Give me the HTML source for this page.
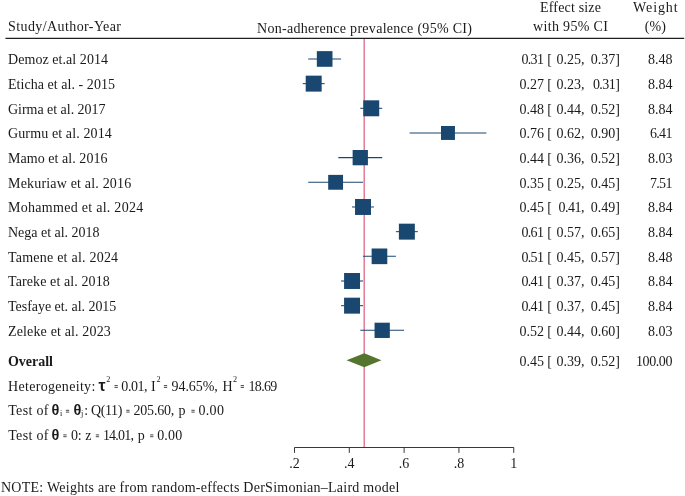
<!DOCTYPE html>
<html><head><meta charset="utf-8"><title>Forest plot</title>
<style>html,body{margin:0;padding:0;background:#fff}body{width:685px;height:496px;overflow:hidden}svg{display:block;will-change:transform}text{filter:grayscale(1);font-family:"Liberation Serif",serif;fill:#1a1a1a;white-space:pre}.g{font-family:"Liberation Sans",sans-serif;font-weight:bold}</style>
</head><body>
<svg width="685" height="496" viewBox="0 0 685 496">
<rect width="685" height="496" fill="#ffffff"/>
<text x="8.00" y="31.30" font-size="14" textLength="113.00" lengthAdjust="spacing">Study/Author-Year</text>
<text x="257.10" y="33.30" font-size="14" textLength="214.80" lengthAdjust="spacing">Non-adherence prevalence (95% CI)</text>
<text x="570.50" y="11.80" font-size="14" text-anchor="middle" textLength="60.90" lengthAdjust="spacing">Effect size</text>
<text x="570.50" y="31.20" font-size="14" text-anchor="middle" textLength="74.90" lengthAdjust="spacing">with 95% CI</text>
<text x="655.30" y="11.80" font-size="14" text-anchor="middle" textLength="44.50" lengthAdjust="spacing">Weight</text>
<text x="655.30" y="31.20" font-size="14" text-anchor="middle" textLength="21.10" lengthAdjust="spacing">(%)</text>
<line x1="5.5" y1="38.37" x2="684.2" y2="38.37" stroke="#1e1e1e" stroke-width="1.25"/>
<line x1="364.17" y1="39" x2="364.17" y2="447.1" stroke="#c10534" stroke-width="0.78"/>
<text x="8.00" y="64.36" font-size="14" textLength="100.00" lengthAdjust="spacing">Demoz et.al 2014</text>
<line x1="308.20" y1="58.96" x2="341.09" y2="58.96" stroke="#1a476f" stroke-width="1.05"/>
<rect x="316.82" y="51.13" width="15.66" height="15.66" fill="#1a476f"/>
<text x="543.90" y="64.36" font-size="14" text-anchor="end" textLength="22.40" lengthAdjust="spacing">0.31</text>
<text x="547.30" y="64.36" font-size="14">[</text>
<text x="584.40" y="64.36" font-size="14" text-anchor="end">0.25,</text>
<text x="619.90" y="64.36" font-size="14" text-anchor="end">0.37]</text>
<text x="672.40" y="64.36" font-size="14" text-anchor="end">8.48</text>
<text x="8.00" y="89.03" font-size="14" textLength="107.00" lengthAdjust="spacing">Eticha et al. - 2015</text>
<line x1="302.72" y1="83.63" x2="324.65" y2="83.63" stroke="#1a476f" stroke-width="1.05"/>
<rect x="305.71" y="75.65" width="15.96" height="15.96" fill="#1a476f"/>
<text x="543.90" y="89.03" font-size="14" text-anchor="end">0.27</text>
<text x="547.30" y="89.03" font-size="14">[</text>
<text x="584.40" y="89.03" font-size="14" text-anchor="end">0.23,</text>
<text x="619.90" y="89.03" font-size="14" text-anchor="end" textLength="27.00" lengthAdjust="spacing">0.31]</text>
<text x="672.40" y="89.03" font-size="14" text-anchor="end">8.84</text>
<text x="8.00" y="113.70" font-size="14" textLength="97.50" lengthAdjust="spacing">Girma et al. 2017</text>
<line x1="360.27" y1="108.30" x2="382.20" y2="108.30" stroke="#1a476f" stroke-width="1.05"/>
<rect x="363.26" y="100.32" width="15.96" height="15.96" fill="#1a476f"/>
<text x="543.90" y="113.70" font-size="14" text-anchor="end">0.48</text>
<text x="547.30" y="113.70" font-size="14">[</text>
<text x="584.40" y="113.70" font-size="14" text-anchor="end">0.44,</text>
<text x="619.90" y="113.70" font-size="14" text-anchor="end">0.52]</text>
<text x="672.40" y="113.70" font-size="14" text-anchor="end">8.84</text>
<text x="8.00" y="138.37" font-size="14" textLength="103.80" lengthAdjust="spacing">Gurmu et al. 2014</text>
<line x1="409.60" y1="132.97" x2="486.34" y2="132.97" stroke="#1a476f" stroke-width="1.05"/>
<rect x="441.00" y="126.00" width="13.94" height="13.94" fill="#1a476f"/>
<text x="543.90" y="138.37" font-size="14" text-anchor="end">0.76</text>
<text x="547.30" y="138.37" font-size="14">[</text>
<text x="584.40" y="138.37" font-size="14" text-anchor="end">0.62,</text>
<text x="619.90" y="138.37" font-size="14" text-anchor="end">0.90]</text>
<text x="672.40" y="138.37" font-size="14" text-anchor="end" textLength="22.40" lengthAdjust="spacing">6.41</text>
<text x="8.00" y="163.04" font-size="14" textLength="99.50" lengthAdjust="spacing">Mamo et al. 2016</text>
<line x1="338.35" y1="157.64" x2="382.20" y2="157.64" stroke="#1a476f" stroke-width="1.05"/>
<rect x="352.63" y="150.00" width="15.28" height="15.28" fill="#1a476f"/>
<text x="543.90" y="163.04" font-size="14" text-anchor="end">0.44</text>
<text x="547.30" y="163.04" font-size="14">[</text>
<text x="584.40" y="163.04" font-size="14" text-anchor="end">0.36,</text>
<text x="619.90" y="163.04" font-size="14" text-anchor="end">0.52]</text>
<text x="672.40" y="163.04" font-size="14" text-anchor="end">8.03</text>
<text x="8.00" y="187.71" font-size="14" textLength="123.20" lengthAdjust="spacing">Mekuriaw et al. 2016</text>
<line x1="308.20" y1="182.31" x2="363.01" y2="182.31" stroke="#1a476f" stroke-width="1.05"/>
<rect x="328.18" y="174.88" width="14.85" height="14.85" fill="#1a476f"/>
<text x="543.90" y="187.71" font-size="14" text-anchor="end">0.35</text>
<text x="547.30" y="187.71" font-size="14">[</text>
<text x="584.40" y="187.71" font-size="14" text-anchor="end">0.25,</text>
<text x="619.90" y="187.71" font-size="14" text-anchor="end">0.45]</text>
<text x="672.40" y="187.71" font-size="14" text-anchor="end" textLength="22.40" lengthAdjust="spacing">7.51</text>
<text x="8.00" y="212.38" font-size="14" textLength="135.20" lengthAdjust="spacing">Mohammed et al. 2024</text>
<line x1="352.05" y1="206.98" x2="373.97" y2="206.98" stroke="#1a476f" stroke-width="1.05"/>
<rect x="355.03" y="199.00" width="15.96" height="15.96" fill="#1a476f"/>
<text x="543.90" y="212.38" font-size="14" text-anchor="end">0.45</text>
<text x="547.30" y="212.38" font-size="14">[</text>
<text x="584.40" y="212.38" font-size="14" text-anchor="end" textLength="25.90" lengthAdjust="spacing">0.41,</text>
<text x="619.90" y="212.38" font-size="14" text-anchor="end">0.49]</text>
<text x="672.40" y="212.38" font-size="14" text-anchor="end">8.84</text>
<text x="8.00" y="237.05" font-size="14" textLength="91.50" lengthAdjust="spacing">Nega et al. 2018</text>
<line x1="395.90" y1="231.65" x2="417.82" y2="231.65" stroke="#1a476f" stroke-width="1.05"/>
<rect x="398.88" y="223.67" width="15.96" height="15.96" fill="#1a476f"/>
<text x="543.90" y="237.05" font-size="14" text-anchor="end" textLength="22.40" lengthAdjust="spacing">0.61</text>
<text x="547.30" y="237.05" font-size="14">[</text>
<text x="584.40" y="237.05" font-size="14" text-anchor="end">0.57,</text>
<text x="619.90" y="237.05" font-size="14" text-anchor="end">0.65]</text>
<text x="672.40" y="237.05" font-size="14" text-anchor="end">8.84</text>
<text x="8.00" y="261.72" font-size="14" textLength="110.10" lengthAdjust="spacing">Tamene et al. 2024</text>
<line x1="363.01" y1="256.32" x2="395.90" y2="256.32" stroke="#1a476f" stroke-width="1.05"/>
<rect x="371.63" y="248.49" width="15.66" height="15.66" fill="#1a476f"/>
<text x="543.90" y="261.72" font-size="14" text-anchor="end" textLength="22.40" lengthAdjust="spacing">0.51</text>
<text x="547.30" y="261.72" font-size="14">[</text>
<text x="584.40" y="261.72" font-size="14" text-anchor="end">0.45,</text>
<text x="619.90" y="261.72" font-size="14" text-anchor="end">0.57]</text>
<text x="672.40" y="261.72" font-size="14" text-anchor="end">8.48</text>
<text x="8.00" y="286.39" font-size="14" textLength="101.80" lengthAdjust="spacing">Tareke et al. 2018</text>
<line x1="341.09" y1="280.99" x2="363.01" y2="280.99" stroke="#1a476f" stroke-width="1.05"/>
<rect x="344.07" y="273.01" width="15.96" height="15.96" fill="#1a476f"/>
<text x="543.90" y="286.39" font-size="14" text-anchor="end" textLength="22.40" lengthAdjust="spacing">0.41</text>
<text x="547.30" y="286.39" font-size="14">[</text>
<text x="584.40" y="286.39" font-size="14" text-anchor="end">0.37,</text>
<text x="619.90" y="286.39" font-size="14" text-anchor="end">0.45]</text>
<text x="672.40" y="286.39" font-size="14" text-anchor="end">8.84</text>
<text x="8.00" y="311.06" font-size="14" textLength="108.30" lengthAdjust="spacing">Tesfaye et. al. 2015</text>
<line x1="341.09" y1="305.66" x2="363.01" y2="305.66" stroke="#1a476f" stroke-width="1.05"/>
<rect x="344.07" y="297.68" width="15.96" height="15.96" fill="#1a476f"/>
<text x="543.90" y="311.06" font-size="14" text-anchor="end" textLength="22.40" lengthAdjust="spacing">0.41</text>
<text x="547.30" y="311.06" font-size="14">[</text>
<text x="584.40" y="311.06" font-size="14" text-anchor="end">0.37,</text>
<text x="619.90" y="311.06" font-size="14" text-anchor="end">0.45]</text>
<text x="672.40" y="311.06" font-size="14" text-anchor="end">8.84</text>
<text x="8.00" y="335.73" font-size="14" textLength="102.80" lengthAdjust="spacing">Zeleke et al. 2023</text>
<line x1="360.27" y1="330.33" x2="404.12" y2="330.33" stroke="#1a476f" stroke-width="1.05"/>
<rect x="374.55" y="322.69" width="15.28" height="15.28" fill="#1a476f"/>
<text x="543.90" y="335.73" font-size="14" text-anchor="end">0.52</text>
<text x="547.30" y="335.73" font-size="14">[</text>
<text x="584.40" y="335.73" font-size="14" text-anchor="end">0.44,</text>
<text x="619.90" y="335.73" font-size="14" text-anchor="end">0.60]</text>
<text x="672.40" y="335.73" font-size="14" text-anchor="end">8.03</text>
<text x="8.00" y="365.90" font-size="14" font-weight="bold" textLength="45.00" lengthAdjust="spacing">Overall</text>
<polygon points="346.57,360.3 364.27,353.30 381.4,360.3 364.27,367.30" fill="#55752f"/>
<text x="543.90" y="365.90" font-size="14" text-anchor="end">0.45</text>
<text x="547.30" y="365.90" font-size="14">[</text>
<text x="584.40" y="365.90" font-size="14" text-anchor="end">0.39,</text>
<text x="619.90" y="365.90" font-size="14" text-anchor="end">0.52]</text>
<text x="672.40" y="365.90" font-size="14" text-anchor="end" textLength="36.40" lengthAdjust="spacing">100.00</text>
<text x="8.00" y="390.70" font-size="14" textLength="87.30" lengthAdjust="spacing">Heterogeneity:</text>
<text class="g" x="98.60" y="390.70" font-size="15.8">τ</text>
<text x="106.30" y="382.20" font-size="8.2">2</text>
<path d="M114.50 385.60h3.3M114.50 387.40h3.3" stroke="#1a1a1a" stroke-width="0.8" fill="none"/>
<text x="121.30" y="390.70" font-size="14" textLength="26.30" lengthAdjust="spacing">0.01,</text>
<text x="151.00" y="390.70" font-size="14">I</text>
<text x="156.40" y="382.20" font-size="8.2">2</text>
<path d="M163.90 385.60h3.3M163.90 387.40h3.3" stroke="#1a1a1a" stroke-width="0.8" fill="none"/>
<text x="171.50" y="390.70" font-size="14" textLength="46.30" lengthAdjust="spacing">94.65%,</text>
<text x="222.40" y="390.70" font-size="14">H</text>
<text x="233.10" y="382.20" font-size="8.2">2</text>
<path d="M240.70 385.60h3.3M240.70 387.40h3.3" stroke="#1a1a1a" stroke-width="0.8" fill="none"/>
<text x="248.50" y="390.70" font-size="14" textLength="28.80" lengthAdjust="spacing">18.69</text>
<text x="8.20" y="415.40" font-size="14" textLength="40.20" lengthAdjust="spacing">Test of</text>
<text class="g" x="51.60" y="415.40" font-size="14.5">θ</text>
<text x="59.90" y="416.40" font-size="8.2">i</text>
<path d="M65.90 410.30h3.3M65.90 412.10h3.3" stroke="#1a1a1a" stroke-width="0.8" fill="none"/>
<text class="g" x="73.50" y="415.40" font-size="14.5">θ</text>
<text x="81.00" y="416.40" font-size="8.2">j</text>
<text x="84.20" y="415.40" font-size="14">:</text>
<text x="91.00" y="415.40" font-size="14" textLength="31.30" lengthAdjust="spacing">Q(11)</text>
<path d="M126.30 410.30h3.3M126.30 412.10h3.3" stroke="#1a1a1a" stroke-width="0.8" fill="none"/>
<text x="133.50" y="415.40" font-size="14" textLength="40.80" lengthAdjust="spacing">205.60,</text>
<text x="178.40" y="415.40" font-size="14">p</text>
<path d="M191.40 410.30h3.3M191.40 412.10h3.3" stroke="#1a1a1a" stroke-width="0.8" fill="none"/>
<text x="198.40" y="415.40" font-size="14" textLength="25.50" lengthAdjust="spacing">0.00</text>
<text x="8.20" y="440.00" font-size="14" textLength="40.20" lengthAdjust="spacing">Test of</text>
<text class="g" x="51.60" y="440.00" font-size="14.5">θ</text>
<path d="M63.30 434.90h3.3M63.30 436.70h3.3" stroke="#1a1a1a" stroke-width="0.8" fill="none"/>
<text x="70.90" y="440.00" font-size="14" textLength="10.80" lengthAdjust="spacing">0:</text>
<text x="85.30" y="440.00" font-size="14">z</text>
<path d="M95.80 434.90h3.3M95.80 436.70h3.3" stroke="#1a1a1a" stroke-width="0.8" fill="none"/>
<text x="102.90" y="440.00" font-size="14" textLength="31.10" lengthAdjust="spacing">14.01,</text>
<text x="137.70" y="440.00" font-size="14">p</text>
<path d="M150.10 434.90h3.3M150.10 436.70h3.3" stroke="#1a1a1a" stroke-width="0.8" fill="none"/>
<text x="157.20" y="440.00" font-size="14" textLength="25.00" lengthAdjust="spacing">0.00</text>
<path d="M294.50 452.9 V447.5 H513.74 V452.9" fill="none" stroke="#222" stroke-width="0.9"/>
<line x1="349.31" y1="447.5" x2="349.31" y2="452.9" stroke="#222" stroke-width="0.9"/>
<line x1="404.12" y1="447.5" x2="404.12" y2="452.9" stroke="#222" stroke-width="0.9"/>
<line x1="458.93" y1="447.5" x2="458.93" y2="452.9" stroke="#222" stroke-width="0.9"/>
<text x="294.50" y="468.40" font-size="14" text-anchor="middle">.2</text>
<text x="349.31" y="468.40" font-size="14" text-anchor="middle">.4</text>
<text x="404.12" y="468.40" font-size="14" text-anchor="middle">.6</text>
<text x="458.93" y="468.40" font-size="14" text-anchor="middle">.8</text>
<text x="513.74" y="468.40" font-size="14" text-anchor="middle">1</text>
<text x="1.00" y="491.50" font-size="14" textLength="398.30" lengthAdjust="spacing">NOTE: Weights are from random-effects DerSimonian–Laird model</text>
</svg></body></html>
